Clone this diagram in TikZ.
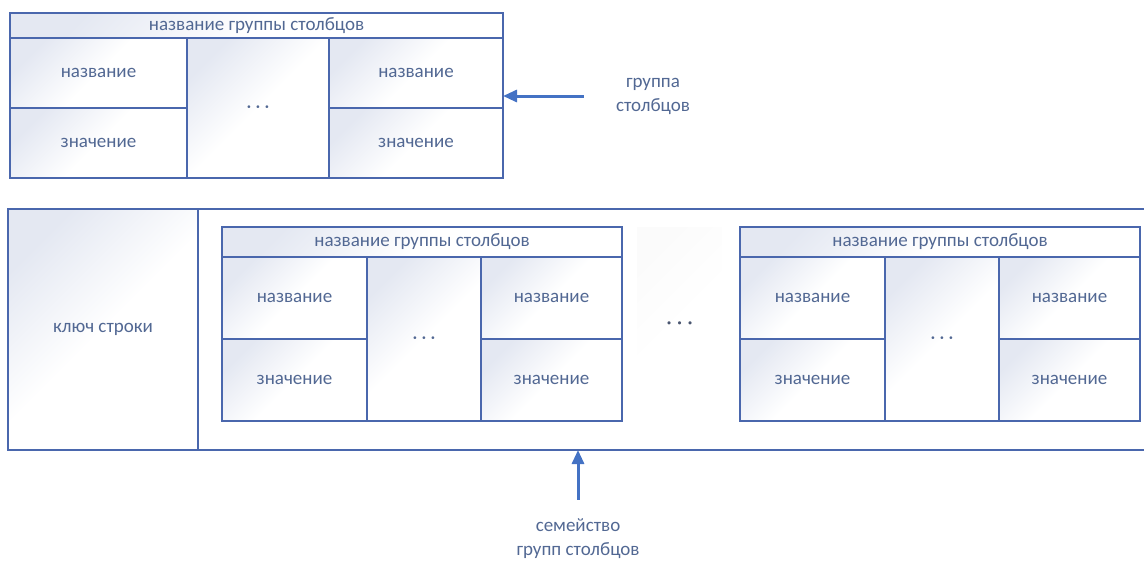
\documentclass[tikz,border=0pt]{standalone}
\usepackage{fontspec}
\setmainfont{Carlito}
\usetikzlibrary{arrows.meta, positioning}

\definecolor{cellborder}{HTML}{4A67AD}
\definecolor{celltext}{HTML}{526893}
\definecolor{cellshade}{HTML}{E4E8F2}
\definecolor{dotgray}{HTML}{4A5670}
\definecolor{arrowblue}{HTML}{4472C4}

\begin{document}
\begin{tikzpicture}[x=1pt, y=-1pt,
                    cell/.style={rectangle, draw=cellborder, line width=1.6pt,
                                 inner sep=0pt, outer sep=0pt,
                                 top color=cellshade, bottom color=white,
                                 middle color=white, shading angle=45,
                                 text=celltext, font=\fontsize{19}{22}\selectfont},
                    note/.style={text=celltext, align=center, inner sep=0pt,
                                 font=\fontsize{19}{24}\selectfont},
                    arr/.style={-{Triangle[length=14pt,width=12pt]},
                                line width=3pt, draw=arrowblue}]

\useasboundingbox (0,0) rectangle (1144,560);

% Top column group
\node (tghead) [cell, anchor=north west, minimum width=493pt, minimum height=25pt] at (10,13) {название группы столбцов};
\node (tgname1) [cell, below=0pt of tghead.south west, anchor=north west, minimum width=177pt, minimum height=70pt] {название};
\node (tgvalue1) [cell, below=0pt of tgname1, minimum width=177pt, minimum height=70pt] {значение};
\node (tgdots) [cell, right=0pt of tgname1.south east, minimum width=142pt, minimum height=140pt] {\raisebox{-9pt}{· · ·}};
\node (tgname2) [cell, right=0pt of tgdots.north east, anchor=north west, minimum width=174pt, minimum height=70pt] {название};
\node (tgvalue2) [cell, below=0pt of tgname2, minimum width=174pt, minimum height=70pt] {значение};

% Row
\node (rowkey) [cell, anchor=north west, minimum width=190pt, minimum height=241pt] at (8,209) {ключ строки};
\node (family) [right=0pt of rowkey, inner sep=0pt, outer sep=0pt, minimum width=946pt, minimum height=241pt] {};
\draw[cellborder, line width=1.6pt] (family.north east) -- (family.north west)
                                    (family.south west) -- (family.south east);

% First group in the family
\node (ahead) [cell, anchor=north west, minimum width=400pt, minimum height=30pt] at (222,227) {название группы столбцов};
\node (aname1) [cell, below=0pt of ahead.south west, anchor=north west, minimum width=145pt, minimum height=82pt] {название};
\node (avalue1) [cell, below=0pt of aname1, minimum width=145pt, minimum height=82pt] {значение};
\node (adots) [cell, right=0pt of aname1.south east, minimum width=114pt, minimum height=164pt] {\raisebox{-8pt}{· · ·}};
\node (aname2) [cell, right=0pt of adots.north east, anchor=north west, minimum width=141pt, minimum height=82pt] {название};
\node (avalue2) [cell, below=0pt of aname2, minimum width=141pt, minimum height=82pt] {значение};

% Gap between groups
\node (gapdots) [anchor=north west, inner sep=0pt, minimum width=85pt, minimum height=194pt,
                 top color=black!1.5, bottom color=white, middle color=white, shading angle=45,
                 text=dotgray, font=\fontsize{22}{24}\selectfont] at (637,227) {\raisebox{-11pt}{· · ·}};

% Last group in the family
\node (bhead) [cell, anchor=north west, minimum width=400pt, minimum height=30pt] at (740,227) {название группы столбцов};
\node (bname1) [cell, below=0pt of bhead.south west, anchor=north west, minimum width=145pt, minimum height=82pt] {название};
\node (bvalue1) [cell, below=0pt of bname1, minimum width=145pt, minimum height=82pt] {значение};
\node (bdots) [cell, right=0pt of bname1.south east, minimum width=114pt, minimum height=164pt] {\raisebox{-8pt}{· · ·}};
\node (bname2) [cell, right=0pt of bdots.north east, anchor=north west, minimum width=141pt, minimum height=82pt] {название};
\node (bvalue2) [cell, below=0pt of bname2, minimum width=141pt, minimum height=82pt] {значение};

% Notes
\node (grouplabel) [note] at (653,96) {группа\\столбцов};
\node (familylabel) [note] at (578,539) {семейство\\групп столбцов};

% Arrows
\draw[arr, shorten <=32pt] (grouplabel.west) -- (grouplabel.west -| tgname2.east);
\draw[arr, shorten <=19pt] (familylabel.north) -- (familylabel.north |- family.south);

\end{tikzpicture}
\end{document}
